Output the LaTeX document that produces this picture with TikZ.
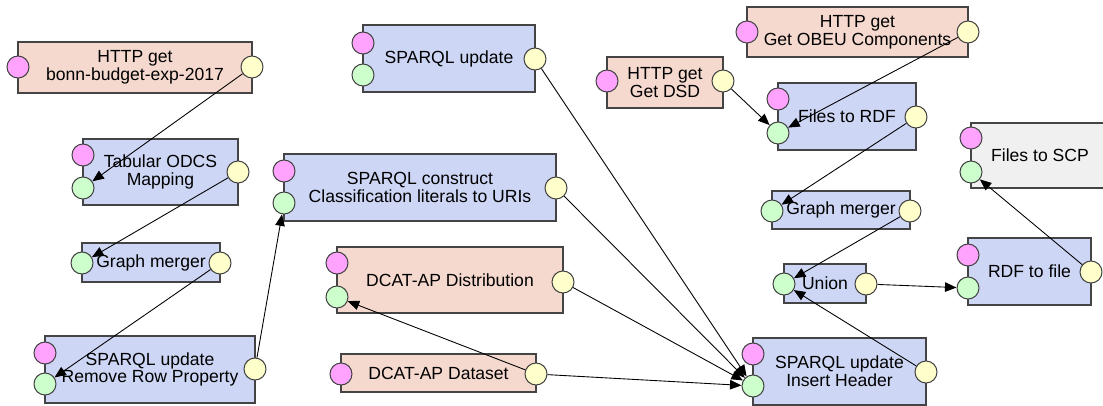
\documentclass[tikz,border=0pt]{standalone}
\usepackage{fontspec}
\setmainfont{Liberation Sans}
\usepackage{tikz}
\usetikzlibrary{arrows.meta,fit}

\definecolor{boxsalmon}{HTML}{F5D9CE}
\definecolor{boxblue}{HTML}{CDD6F4}
\definecolor{boxgray}{HTML}{F0F0F0}
\definecolor{portpink}{HTML}{FFA3FF}
\definecolor{portgreen}{HTML}{CCFFCC}
\definecolor{portyellow}{HTML}{FFFFCC}
\definecolor{linegray}{HTML}{444444}

\tikzset{
  stage/.style={draw=linegray, line width=0.6pt, inner sep=0pt},
  fetch/.style={stage, fill=boxsalmon},
  task/.style={stage, fill=boxblue},
  sink/.style={stage, fill=boxgray},
  caption/.style={align=center, inner sep=0pt, font=\fontsize{10}{10}\selectfont},
  port/.style={circle, draw=linegray, line width=0.6pt, minimum size=0.44cm, inner sep=0pt},
  cfg/.style={port, fill=portpink},
  inp/.style={port, fill=portgreen},
  outp/.style={port, fill=portyellow},
  flow/.style={-{Triangle[length=2.3mm,width=1.9mm]}, line width=0.5pt, black}
}

\begin{document}
\begin{tikzpicture}[x=0.02cm, y=-0.02cm]
\useasboundingbox (0,0) rectangle (1103,406);
\clip (0,0) rectangle (1103,406);

% left column
\node [fetch, fit={(18,42) (252,93)}] (bonn) {};
\node [caption] (bonn-t) at (bonn) {HTTP get\\bonn-budget-exp-2017};
\node [cfg] (bonn-c) at (18,67) {};
\node [outp] (bonn-o) at (252,67) {};

\node [task, fit={(83,139) (238,205)}] (odcs) {};
\node [caption] (odcs-t) at (odcs) {Tabular ODCS\\Mapping};
\node [cfg] (odcs-c) at (83,155) {};
\node [inp] (odcs-i) at (83,188) {};
\node [outp] (odcs-o) at (238,172) {};

\node [task, fit={(82,243) (220,282)}] (mergeA) {};
\node [caption] (mergeA-t) at (mergeA) {Graph merger};
\node [inp] (mergeA-i) at (82,263) {};
\node [outp] (mergeA-o) at (220,263) {};

\node [task, fit={(45,336) (255,403)}] (rowprop) {};
\node [caption] (rowprop-t) at (rowprop) {SPARQL update\\Remove Row Property};
\node [cfg] (rowprop-c) at (45,353) {};
\node [inp] (rowprop-i) at (45,384) {};
\node [outp] (rowprop-o) at (255,369) {};

% middle column
\node [task, fit={(363,25) (535,92)}] (update) {};
\node [caption] (update-t) at (update) {SPARQL update};
\node [cfg] (update-c) at (363,43) {};
\node [inp] (update-i) at (363,75) {};
\node [outp] (update-o) at (535,59) {};

\node [task, fit={(284,154) (556,221)}] (construct) {};
\node [caption] (construct-t) at (construct) {SPARQL construct\\Classification literals to URIs};
\node [cfg] (construct-c) at (284,171) {};
\node [inp] (construct-i) at (284,203) {};
\node [outp] (construct-o) at (556,188) {};

\node [fetch, fit={(337,247) (563,313)}] (distrib) {};
\node [caption] (distrib-t) at (distrib) {DCAT-AP Distribution};
\node [cfg] (distrib-c) at (337,263) {};
\node [inp] (distrib-i) at (337,297) {};
\node [outp] (distrib-o) at (563,282) {};

\node [fetch, fit={(341,354) (536,392)}] (dataset) {};
\node [caption] (dataset-t) at (dataset) {DCAT-AP Dataset};
\node [cfg] (dataset-c) at (341,374) {};
\node [outp] (dataset-o) at (536,374) {};

% right part
\node [fetch, fit={(747,7) (968,57)}] (obeu) {};
\node [caption] (obeu-t) at (obeu) {HTTP get\\Get OBEU Components};
\node [cfg] (obeu-c) at (747,32) {};
\node [outp] (obeu-o) at (968,32) {};

\node [fetch, fit={(607,57) (723,108)}] (dsd) {};
\node [caption] (dsd-t) at (dsd) {HTTP get\\Get DSD};
\node [cfg] (dsd-c) at (607,81) {};
\node [outp] (dsd-o) at (723,81) {};

\node [task, fit={(778,83) (916,150)}] (tordf) {};
\node [caption] (tordf-t) at (tordf) {Files to RDF};
\node [cfg] (tordf-c) at (778,99) {};
\node [inp] (tordf-i) at (778,133) {};
\node [outp] (tordf-o) at (916,117) {};

\node [task, fit={(772,191) (910,229)}] (mergeB) {};
\node [caption] (mergeB-t) at (mergeB) {Graph merger};
\node [inp] (mergeB-i) at (772,211) {};
\node [outp] (mergeB-o) at (910,211) {};

\node [task, fit={(784,264) (866,303)}] (union) {};
\node [caption] (union-t) at (union) {Union};
\node [inp] (union-i) at (784,284) {};
\node [outp] (union-o) at (866,284) {};

\node [task, fit={(753,338) (926,405)}] (header) {};
\node [caption] (header-t) at (header) {SPARQL update\\Insert Header};
\node [cfg] (header-c) at (753,354) {};
\node [inp] (header-i) at (753,386) {};
\node [outp] (header-o) at (926,372) {};

\node [task, fit={(968,238) (1091,305)}] (tofile) {};
\node [caption] (tofile-t) at (tofile) {RDF to file};
\node [cfg] (tofile-c) at (968,255) {};
\node [inp] (tofile-i) at (968,288) {};
\node [outp] (tofile-o) at (1091,272) {};

\node [sink, fit={(971,123) (1109,188)}] (scp) {};
\node [caption] (scp-t) at (scp) {Files to SCP};
\node [cfg] (scp-c) at (971,138) {};
\node [inp] (scp-i) at (971,172) {};

% data flow
\draw [flow] (bonn-o) -- (odcs-i);
\draw [flow] (odcs-o) -- (mergeA-i);
\draw [flow] (mergeA-o) -- (rowprop-i);
\draw [flow] (rowprop-o) -- (construct-i);
\draw [flow] (update-o) -- (header-i);
\draw [flow] (construct-o) -- (header-i);
\draw [flow] (distrib-o) -- (header-i);
\draw [flow] (dataset-o) -- (header-i);
\draw [flow] (dataset-o) -- (distrib-i);
\draw [flow] (dsd-o) -- (tordf-i);
\draw [flow] (obeu-o) -- (tordf-i);
\draw [flow] (tordf-o) -- (mergeB-i);
\draw [flow] (mergeB-o) -- (union-i);
\draw [flow] (header-o) -- (union-i);
\draw [flow] (union-o) -- (tofile-i);
\draw [flow] (tofile-o) -- (scp-i);

\end{tikzpicture}
\end{document}
